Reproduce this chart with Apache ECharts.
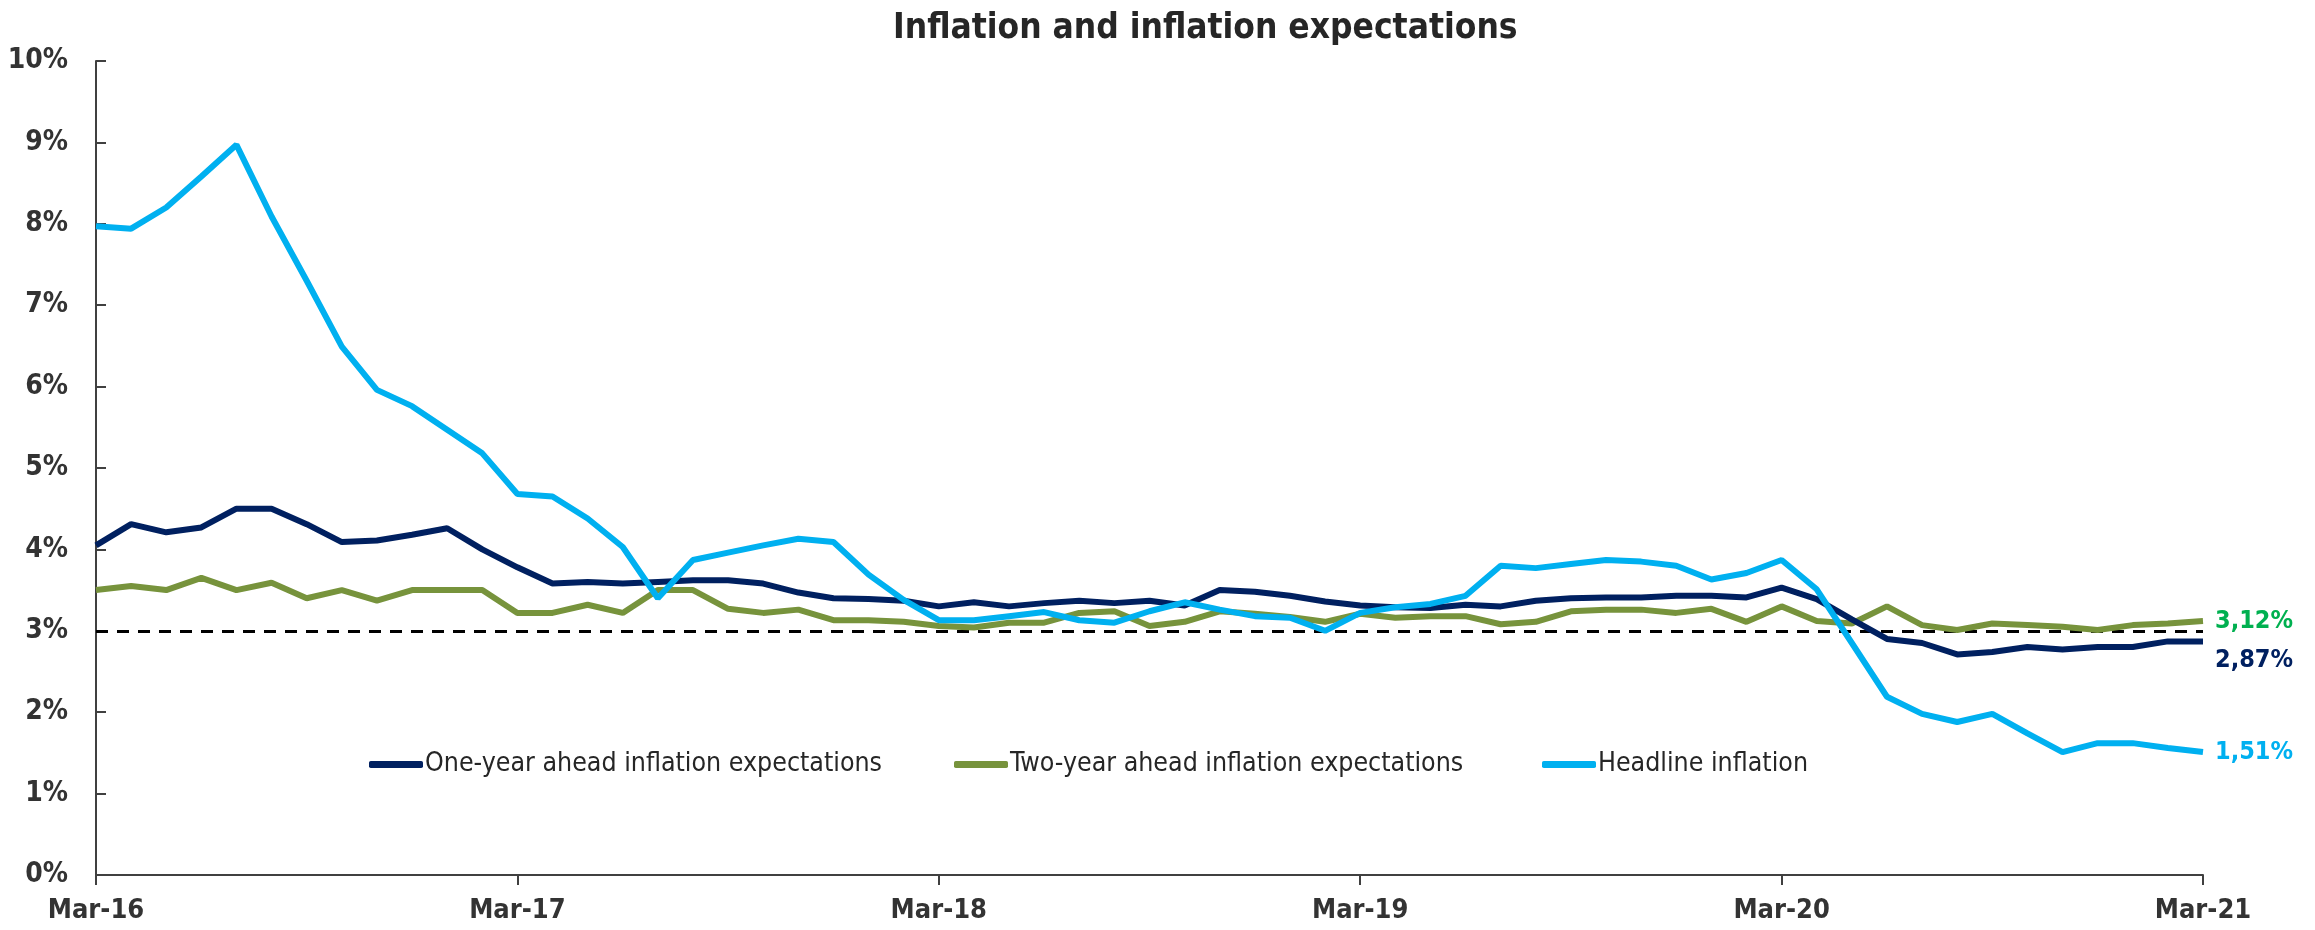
<!DOCTYPE html>
<html>
<head>
<meta charset="utf-8">
<title>Inflation and inflation expectations</title>
<script src="https://cdn.jsdelivr.net/npm/echarts@6.0.0/dist/echarts.min.js"></script>
<style>
	html, body { margin: 0; padding: 0; background: #ffffff; }
	#chart { width: 2315px; height: 930px; }
</style>
</head>
<body>
<div id="chart"></div>
<script>
	// monthly, Mar-16 .. Mar-21
	var monthNames = ['Jan','Feb','Mar','Apr','May','Jun','Jul','Aug','Sep','Oct','Nov','Dec'];
	var months = [];
	for (var i = 0; i <= 60; i++) {
		var m = (2 + i) % 12;
		var y = 16 + Math.floor((2 + i) / 12);
		months.push(monthNames[m] + '-' + y);
	}

	var oneYear = [
		4.05, 4.31, 4.21, 4.27, 4.50, 4.50, 4.31, 4.09, 4.11, 4.18, 4.26, 4.00,
		3.78, 3.58, 3.60, 3.58, 3.60, 3.62, 3.62, 3.58, 3.47, 3.40, 3.39, 3.37,
		3.30, 3.35, 3.30, 3.34, 3.37, 3.34, 3.37, 3.31, 3.50, 3.48, 3.43, 3.36,
		3.31, 3.29, 3.28, 3.32, 3.30, 3.37, 3.40, 3.41, 3.41, 3.43, 3.43, 3.41,
		3.53, 3.39, 3.14, 2.90, 2.85, 2.71, 2.74, 2.80, 2.77, 2.80, 2.80, 2.87,
		2.87
	];
	var twoYear = [
		3.50, 3.55, 3.50, 3.65, 3.50, 3.59, 3.40, 3.50, 3.37, 3.50, 3.50, 3.50,
		3.22, 3.22, 3.32, 3.22, 3.50, 3.50, 3.27, 3.22, 3.26, 3.13, 3.13, 3.11,
		3.06, 3.04, 3.10, 3.10, 3.22, 3.24, 3.06, 3.11, 3.24, 3.21, 3.17, 3.11,
		3.21, 3.16, 3.18, 3.18, 3.08, 3.11, 3.24, 3.26, 3.26, 3.22, 3.27, 3.11,
		3.30, 3.12, 3.09, 3.30, 3.07, 3.01, 3.09, 3.07, 3.05, 3.01, 3.07, 3.09,
		3.12
	];
	var headline = [
		7.97, 7.94, 8.20, 8.58, 8.97, 8.09, 7.30, 6.49, 5.96, 5.76, 5.47, 5.18,
		4.68, 4.65, 4.38, 4.03, 3.40, 3.87, 3.96, 4.05, 4.13, 4.09, 3.69, 3.38,
		3.13, 3.13, 3.18, 3.23, 3.13, 3.10, 3.24, 3.35, 3.26, 3.18, 3.16, 3.00,
		3.22, 3.29, 3.33, 3.43, 3.80, 3.77, 3.82, 3.87, 3.85, 3.80, 3.63, 3.71,
		3.87, 3.51, 2.85, 2.19, 1.98, 1.88, 1.98, 1.74, 1.51, 1.62, 1.62, 1.56,
		1.51
	];
	var target = 3;

	var font = "'DejaVu Sans Condensed', 'Noto Sans', sans-serif";
	var navy = '#002060', green = '#77933C', sky = '#00B0F0';

	function pct(p) {
		return p.value.toFixed(2).replace('.', ',') + '%';
	}

	var myChart = echarts.init(document.getElementById('chart'));
	myChart.setOption({
		animation: false,
		textStyle: { fontFamily: font },
		title: {
			text: 'Inflation and inflation expectations',
			left: 888,
			top: 6,
			textStyle: { fontFamily: font, fontSize: 35, fontWeight: 'bold', color: '#262626' }
		},
		legend: [
			{ data: ['One-year ahead inflation expectations'], left: 364, top: 746 },
			{ data: ['Two-year ahead inflation expectations'], left: 949, top: 746 },
			{ data: ['Headline inflation'], left: 1537, top: 746 }
		].map(function (l) {
			l.icon = 'roundRect';
			l.itemWidth = 54;
			l.itemHeight = 7;
			l.textStyle = { fontFamily: font, fontSize: 26.5, color: '#262626', padding: [0, 0, 0, -3] };
			return l;
		}),
		grid: { left: 96, right: 112, top: 61, bottom: 55 },
		xAxis: {
			type: 'category',
			data: months,
			boundaryGap: false,
			axisLine: { lineStyle: { color: '#404040', width: 2 } },
			axisTick: { interval: 11, length: 10, lineStyle: { color: '#404040', width: 2 } },
			axisLabel: {
				interval: 11, margin: 22,
				fontFamily: font, fontSize: 27, fontWeight: 'bold', color: '#333333'
			},
			splitLine: { show: false }
		},
		yAxis: {
			type: 'value',
			min: 0, max: 10, interval: 1,
			axisLine: { show: true, lineStyle: { color: '#404040', width: 2 } },
			axisTick: { show: true, inside: true, length: 10, lineStyle: { color: '#404040', width: 2 } },
			axisLabel: {
				formatter: '{value}%', margin: 28,
				fontFamily: font, fontSize: 28, fontWeight: 'bold', color: '#333333'
			},
			splitLine: { show: false }
		},
		series: [
			{
				name: 'One-year ahead inflation expectations',
				type: 'line',
				data: oneYear,
				showSymbol: false,
				color: navy,
				lineStyle: { width: 6, color: navy },
				z: 3,
				endLabel: {
					show: true, formatter: pct, distance: 12, offset: [0, 19],
					fontFamily: font, fontSize: 25, fontWeight: 'bold', color: navy
				},
				markLine: {
					silent: true,
					symbol: 'none',
					label: { show: false },
					lineStyle: { color: '#000000', type: [12, 9], width: 3 },
					data: [{ yAxis: target }],
					z: 1
				}
			},
			{
				name: 'Two-year ahead inflation expectations',
				type: 'line',
				data: twoYear,
				showSymbol: false,
				color: green,
				lineStyle: { width: 6, color: green },
				z: 2,
				endLabel: {
					show: true, formatter: pct, distance: 12,
					fontFamily: font, fontSize: 25, fontWeight: 'bold', color: '#00B050'
				}
			},
			{
				name: 'Headline inflation',
				type: 'line',
				data: headline,
				showSymbol: false,
				color: sky,
				lineStyle: { width: 6, color: sky },
				z: 4,
				endLabel: {
					show: true, formatter: pct, distance: 12,
					fontFamily: font, fontSize: 25, fontWeight: 'bold', color: sky
				}
			}
		]
	});
</script>
</body>
</html>
